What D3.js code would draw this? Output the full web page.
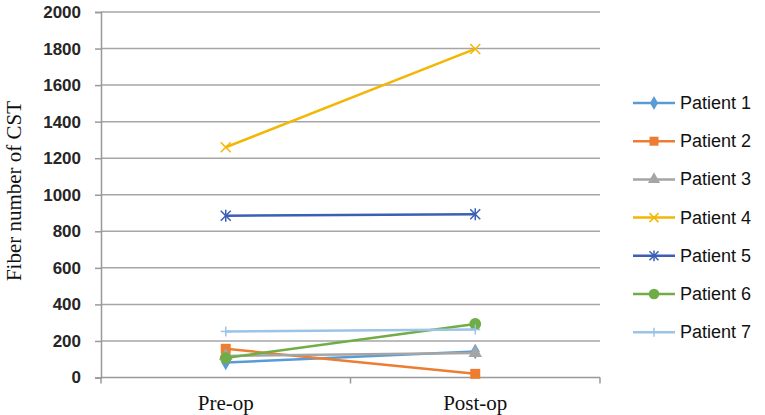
<!DOCTYPE html>
<html>
<head>
<meta charset="utf-8">
<script src="https://cdn.jsdelivr.net/npm/d3@7"></script>
<style>
  body { margin: 0; background: #fff; }
  svg { display: block; }
</style>
</head>
<body>
<div id="chart-area"></div>
<script>
var categories = ["Pre-op", "Post-op"];
var patients = ["Patient 1", "Patient 2", "Patient 3", "Patient 4", "Patient 5", "Patient 6", "Patient 7"];
var preOp  = [82, 157, 118, 1260, 885, 107, 252];
var postOp = [142, 20, 134, 1798, 893, 293, 262];
var yTicks = [0, 200, 400, 600, 800, 1000, 1200, 1400, 1600, 1800, 2000];

var colors  = ["#5b9bd5", "#ed7d31", "#a5a5a5", "#f2b705", "#3a5fb4", "#70ad47", "#9dc3e6"];
var symbols = ["diamond", "square", "triangle", "cross", "star", "circle", "plus"];

var margin = { top: 12, bottom: 38, left: 101, right: 165 };
var width  = 765 - margin.left - margin.right;
var height = 415 - margin.top - margin.bottom;

var svg = d3.select("#chart-area")
    .append("svg")
        .attr("width", 765)
        .attr("height", 415);

var g = svg.append("g")
    .attr("transform", "translate(" + margin.left + ", " + margin.top + ")");

var x = d3.scaleBand()
    .domain(categories)
    .range([0, width]);

var y = d3.scaleLinear()
    .domain([0, 2000])
    .range([height + 0.5, 0]);

// gridlines
g.selectAll(".grid")
    .data(yTicks.slice(1))
    .enter()
    .append("line")
        .attr("x1", 0)
        .attr("x2", width)
        .attr("y1", function(d) { return y(d); })
        .attr("y2", function(d) { return y(d); })
        .attr("stroke", "#a6a6a6")
        .attr("stroke-width", 1.5);

var yAxisCall = d3.axisLeft(y)
    .tickValues(yTicks)
    .tickFormat(d3.format("d"))
    .tickSize(6)
    .tickPadding(14);

var yAxis = g.append("g")
    .attr("class", "y-axis")
    .call(yAxisCall);
yAxis.select(".domain").attr("stroke", "#999").attr("stroke-width", 1.5);
yAxis.selectAll(".tick line").attr("stroke", "#999").attr("stroke-width", 1.5);
yAxis.selectAll("text")
    .attr("font-family", "Liberation Sans, Arial, sans-serif")
    .attr("font-size", "17px")
    .attr("font-weight", "bold")
    .attr("fill", "#262626");

// x axis with ticks at band edges
var xAxisLine = g.append("g")
    .attr("class", "x-axis")
    .attr("transform", "translate(0, " + y(0) + ")");
xAxisLine.append("line")
    .attr("x1", 0).attr("x2", width)
    .attr("stroke", "#999").attr("stroke-width", 1.5);
xAxisLine.selectAll(".edge")
    .data([0, 1, 2])
    .enter()
    .append("line")
        .attr("x1", function(d) { return d * x.bandwidth(); })
        .attr("x2", function(d) { return d * x.bandwidth(); })
        .attr("y1", 0).attr("y2", 6)
        .attr("stroke", "#999").attr("stroke-width", 1.5);
xAxisLine.selectAll(".lbl")
    .data(categories)
    .enter()
    .append("text")
        .attr("x", function(d) { return x(d) + x.bandwidth() / 2; })
        .attr("y", 32)
        .attr("text-anchor", "middle")
        .attr("font-family", "Liberation Serif, Times New Roman, serif")
        .attr("font-size", "21px")
        .attr("fill", "#111")
        .text(function(d) { return d; });

g.append("text")
    .attr("class", "y-label")
    .attr("x", -179)
    .attr("y", -80)
    .attr("font-size", "21px")
    .attr("font-family", "Liberation Serif, Times New Roman, serif")
    .attr("text-anchor", "middle")
    .attr("transform", "rotate(-90)")
    .attr("fill", "#111")
    .text("Fiber number of CST");

var series = patients.map(function(p, i) {
    return { name: p, color: colors[i], symbol: symbols[i], values: [preOp[i], postOp[i]] };
});

var line = d3.line()
    .x(function(d, i) { return x(categories[i]) + x.bandwidth() / 2; })
    .y(function(d) { return y(d); });

function drawMarker(sel, s, size) {
    if (s.symbol === "cross" || s.symbol === "star" || s.symbol === "plus") {
        var r = size / 2;
        var segs;
        if (s.symbol === "cross") segs = [[-r, -r, r, r], [-r, r, r, -r]];
        else if (s.symbol === "plus") segs = [[-r, 0, r, 0], [0, -r, 0, r]];
        else segs = [[-r, -r, r, r], [-r, r, r, -r], [0, -r * 1.2, 0, r * 1.2]];
        segs.forEach(function(sg) {
            sel.append("line")
                .attr("x1", sg[0]).attr("y1", sg[1]).attr("x2", sg[2]).attr("y2", sg[3])
                .attr("stroke", s.color).attr("stroke-width", 1.5);
        });
    } else {
        var type = { diamond: d3.symbolDiamond, square: d3.symbolSquare, triangle: d3.symbolTriangle, circle: d3.symbolCircle }[s.symbol];
        var area = { diamond: 70, square: 100, triangle: 80, circle: 110 }[s.symbol] * size / 10 * size / 10;
        sel.append("path")
            .attr("d", d3.symbol().type(type).size(area)())
            .attr("fill", s.color);
    }
}

series.forEach(function(s) {
    var sg = g.append("g").attr("class", "series");
    sg.append("path")
        .datum(s.values)
        .attr("d", line)
        .attr("fill", "none")
        .attr("stroke", s.color)
        .attr("stroke-width", 2.5);
    s.values.forEach(function(v, i) {
        var m = sg.append("g")
            .attr("transform", "translate(" + (x(categories[i]) + x.bandwidth() / 2) + "," + y(v) + ")");
        drawMarker(m, s, 10);
    });
});

// legend
var legend = svg.append("g")
    .attr("transform", "translate(633, 103)");
series.forEach(function(s, i) {
    var lg = legend.append("g").attr("transform", "translate(0," + (i * 38.2) + ")");
    lg.append("line")
        .attr("x1", 0).attr("x2", 42)
        .attr("stroke", s.color).attr("stroke-width", 2.5);
    var m = lg.append("g").attr("transform", "translate(21,0)");
    drawMarker(m, s, 9);
    lg.append("text")
        .attr("x", 47)
        .attr("y", 6)
        .attr("font-family", "Liberation Sans, Arial, sans-serif")
        .attr("font-size", "18px")
        .attr("fill", "#111")
        .text(s.name);
});
</script>
</body>
</html>
